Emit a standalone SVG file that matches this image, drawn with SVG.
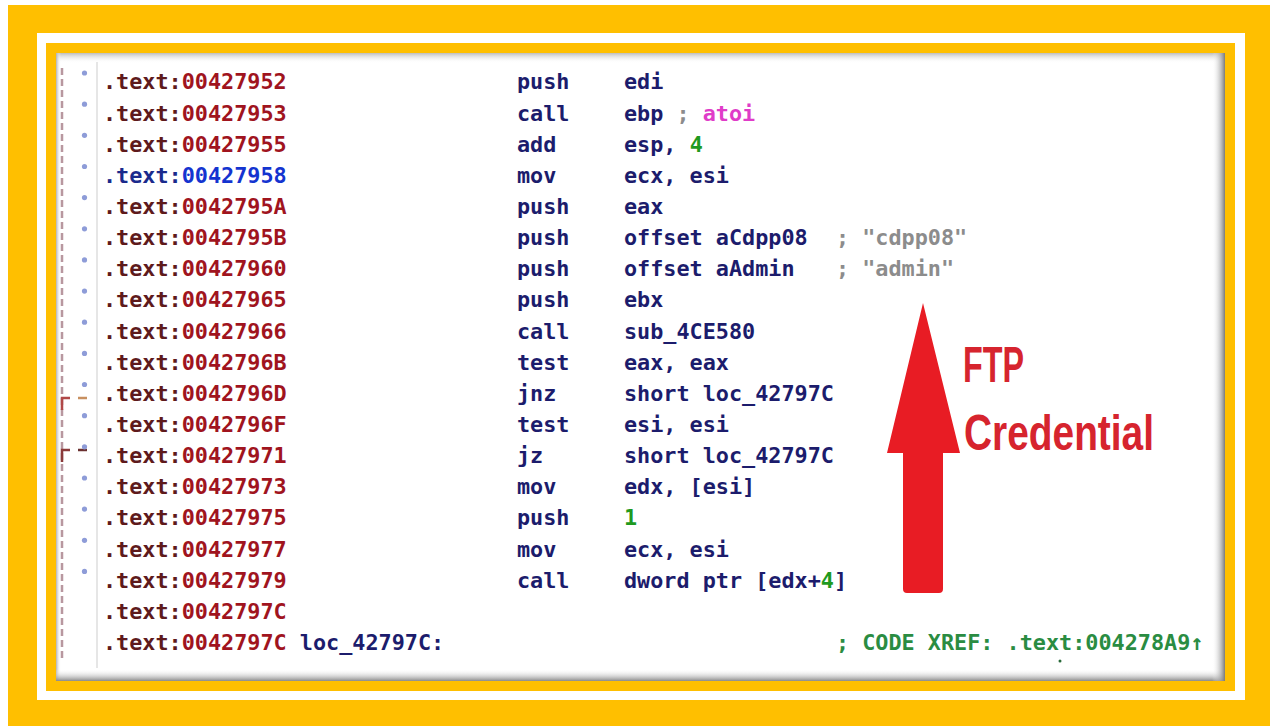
<svg xmlns="http://www.w3.org/2000/svg" width="1270" height="726" viewBox="0 0 1270 726">
<defs>
<style>
.t{font-family:"DejaVu Sans Mono","Liberation Mono",monospace;font-weight:bold;font-size:21.8px}
.a1{fill:#5e1a1c}.a2{fill:#a0141e}
.b1{fill:#1a2a8c}.b2{fill:#1434d0}
.m{fill:#1c1c6c}
.g{fill:#1f9a1f}
.c{fill:#8c8c8c}
.p{fill:#e03cc8}
.x{fill:#2a8c42}
.dot{fill:#8e9cd8}
.lbl{font-family:"Liberation Sans","Open Sans",sans-serif;font-weight:bold;font-size:50px;fill:#d6242e}
</style>
<linearGradient id="shT" x1="0" y1="0" x2="0" y2="1"><stop offset="0" stop-color="#bdbdbd"/><stop offset="1" stop-color="#fff" stop-opacity="0"/></linearGradient>
<linearGradient id="shB" x1="0" y1="1" x2="0" y2="0"><stop offset="0" stop-color="#8a8a8a"/><stop offset="1" stop-color="#fff" stop-opacity="0"/></linearGradient>
<linearGradient id="shR" x1="1" y1="0" x2="0" y2="0"><stop offset="0" stop-color="#7a7a7a"/><stop offset="1" stop-color="#fff" stop-opacity="0"/></linearGradient>
<linearGradient id="shL" x1="0" y1="0" x2="1" y2="0"><stop offset="0" stop-color="#b0b0b0"/><stop offset="1" stop-color="#fff" stop-opacity="0"/></linearGradient>
</defs>
<g id="frame">
<rect x="0" y="0" width="1270" height="726" fill="#fff"/>
<rect x="8" y="5" width="1262" height="721" fill="#ffbf00"/>
<rect x="37" y="33" width="1208" height="667" fill="#fff"/>
<rect x="46" y="43" width="1189" height="648" fill="#ffbf00"/>
<rect x="56" y="53" width="1169" height="628" fill="#fff"/>
<rect x="56" y="53" width="1169" height="10" fill="url(#shT)"/>
<rect x="56" y="53" width="5" height="628" fill="url(#shL)"/>
<rect x="56" y="669" width="1169" height="12" fill="url(#shB)"/>
<rect x="1212" y="53" width="13" height="628" fill="url(#shR)"/>
</g>
<g id="connectors">
<line x1="62" y1="68" x2="62" y2="662" stroke="#b8979f" stroke-width="2.5" stroke-dasharray="7 4"/>
<line x1="97" y1="62" x2="97" y2="668" stroke="#e6e6e6" stroke-width="2"/>
<path d="M62 410 V398 H70" fill="none" stroke="#b04848" stroke-width="2.5"/>
<line x1="78" y1="398" x2="87" y2="398" stroke="#c89060" stroke-width="2.5"/>
<path d="M62 462 V450 H70" fill="none" stroke="#8a3a3a" stroke-width="2.5"/>
<line x1="78" y1="450" x2="87" y2="450" stroke="#6a3030" stroke-width="2.5"/>
</g>
<g id="gutter-dots">
<circle class="dot" cx="84.5" cy="73" r="2.6"/>
<circle class="dot" cx="84.5" cy="104.2" r="2.6"/>
<circle class="dot" cx="84.5" cy="135.3" r="2.6"/>
<circle class="dot" cx="84.5" cy="166.5" r="2.6"/>
<circle class="dot" cx="84.5" cy="197.6" r="2.6"/>
<circle class="dot" cx="84.5" cy="228.8" r="2.6"/>
<circle class="dot" cx="84.5" cy="259.9" r="2.6"/>
<circle class="dot" cx="84.5" cy="291.1" r="2.6"/>
<circle class="dot" cx="84.5" cy="322.2" r="2.6"/>
<circle class="dot" cx="84.5" cy="353.4" r="2.6"/>
<circle class="dot" cx="84.5" cy="384.5" r="2.6"/>
<circle class="dot" cx="84.5" cy="415.7" r="2.6"/>
<circle class="dot" cx="84.5" cy="446.8" r="2.6"/>
<circle class="dot" cx="84.5" cy="478" r="2.6"/>
<circle class="dot" cx="84.5" cy="509.1" r="2.6"/>
<circle class="dot" cx="84.5" cy="540.3" r="2.6"/>
<circle class="dot" cx="84.5" cy="571.4" r="2.6"/>
</g>
<g id="code" class="t">
<g id="row0"><text x="103" y="89.3"><tspan class="a1">.text:</tspan><tspan class="a2">00427952</tspan></text><text class="m" x="517" y="89.3">push</text><text class="m" x="624" y="89.3">edi</text></g>
<g id="row1"><text x="103" y="120.5"><tspan class="a1">.text:</tspan><tspan class="a2">00427953</tspan></text><text class="m" x="517" y="120.5">call</text><text x="624" y="120.5"><tspan class="m">ebp</tspan><tspan class="c"> ; </tspan><tspan class="p">atoi</tspan></text></g>
<g id="row2"><text x="103" y="151.6"><tspan class="a1">.text:</tspan><tspan class="a2">00427955</tspan></text><text class="m" x="517" y="151.6">add</text><text x="624" y="151.6"><tspan class="m">esp, </tspan><tspan class="g">4</tspan></text></g>
<g id="row3"><text x="103" y="182.8"><tspan class="b1">.text:</tspan><tspan class="b2">00427958</tspan></text><text class="m" x="517" y="182.8">mov</text><text class="m" x="624" y="182.8">ecx, esi</text></g>
<g id="row4"><text x="103" y="213.9"><tspan class="a1">.text:</tspan><tspan class="a2">0042795A</tspan></text><text class="m" x="517" y="213.9">push</text><text class="m" x="624" y="213.9">eax</text></g>
<g id="row5"><text x="103" y="245.1"><tspan class="a1">.text:</tspan><tspan class="a2">0042795B</tspan></text><text class="m" x="517" y="245.1">push</text><text class="m" x="624" y="245.1">offset aCdpp08</text><text class="c" x="836" y="245.1">; "cdpp08"</text></g>
<g id="row6"><text x="103" y="276.2"><tspan class="a1">.text:</tspan><tspan class="a2">00427960</tspan></text><text class="m" x="517" y="276.2">push</text><text class="m" x="624" y="276.2">offset aAdmin</text><text class="c" x="836" y="276.2">; "admin"</text></g>
<g id="row7"><text x="103" y="307.4"><tspan class="a1">.text:</tspan><tspan class="a2">00427965</tspan></text><text class="m" x="517" y="307.4">push</text><text class="m" x="624" y="307.4">ebx</text></g>
<g id="row8"><text x="103" y="338.5"><tspan class="a1">.text:</tspan><tspan class="a2">00427966</tspan></text><text class="m" x="517" y="338.5">call</text><text class="m" x="624" y="338.5">sub_4CE580</text></g>
<g id="row9"><text x="103" y="369.7"><tspan class="a1">.text:</tspan><tspan class="a2">0042796B</tspan></text><text class="m" x="517" y="369.7">test</text><text class="m" x="624" y="369.7">eax, eax</text></g>
<g id="row10"><text x="103" y="400.8"><tspan class="a1">.text:</tspan><tspan class="a2">0042796D</tspan></text><text class="m" x="517" y="400.8">jnz</text><text class="m" x="624" y="400.8">short loc_42797C</text></g>
<g id="row11"><text x="103" y="432"><tspan class="a1">.text:</tspan><tspan class="a2">0042796F</tspan></text><text class="m" x="517" y="432">test</text><text class="m" x="624" y="432">esi, esi</text></g>
<g id="row12"><text x="103" y="463.1"><tspan class="a1">.text:</tspan><tspan class="a2">00427971</tspan></text><text class="m" x="517" y="463.1">jz</text><text class="m" x="624" y="463.1">short loc_42797C</text></g>
<g id="row13"><text x="103" y="494.3"><tspan class="a1">.text:</tspan><tspan class="a2">00427973</tspan></text><text class="m" x="517" y="494.3">mov</text><text class="m" x="624" y="494.3">edx, [esi]</text></g>
<g id="row14"><text x="103" y="525.4"><tspan class="a1">.text:</tspan><tspan class="a2">00427975</tspan></text><text class="m" x="517" y="525.4">push</text><text class="g" x="624" y="525.4">1</text></g>
<g id="row15"><text x="103" y="556.6"><tspan class="a1">.text:</tspan><tspan class="a2">00427977</tspan></text><text class="m" x="517" y="556.6">mov</text><text class="m" x="624" y="556.6">ecx, esi</text></g>
<g id="row16"><text x="103" y="587.7"><tspan class="a1">.text:</tspan><tspan class="a2">00427979</tspan></text><text class="m" x="517" y="587.7">call</text><text x="624" y="587.7"><tspan class="m">dword ptr [edx+</tspan><tspan class="g">4</tspan><tspan class="m">]</tspan></text></g>
<g id="row17"><text x="103" y="618.9"><tspan class="a1">.text:</tspan><tspan class="a2">0042797C</tspan></text></g>
<g id="row18"><text x="103" y="650"><tspan class="a1">.text:</tspan><tspan class="a2">0042797C</tspan><tspan class="m"> loc_42797C:</tspan></text><text class="x" x="836" y="650">; CODE XREF: .text:004278A9↑</text><circle cx="1060" cy="661" r="1.5" fill="#2a6a3a"/></g>
</g>
<g id="ftp-arrow">
<path d="M923 303 L960 453 L943 453 L943 589 Q943 593 939 593 L907 593 Q903 593 903 589 L903 453 L887 453 Z" fill="#e81c24"/>
</g>
<g id="ftp-label">
<text class="lbl" x="963" y="382" textLength="61" lengthAdjust="spacingAndGlyphs">FTP</text>
<text class="lbl" x="964" y="450" textLength="190" lengthAdjust="spacingAndGlyphs">Credential</text>
</g>
</svg>
